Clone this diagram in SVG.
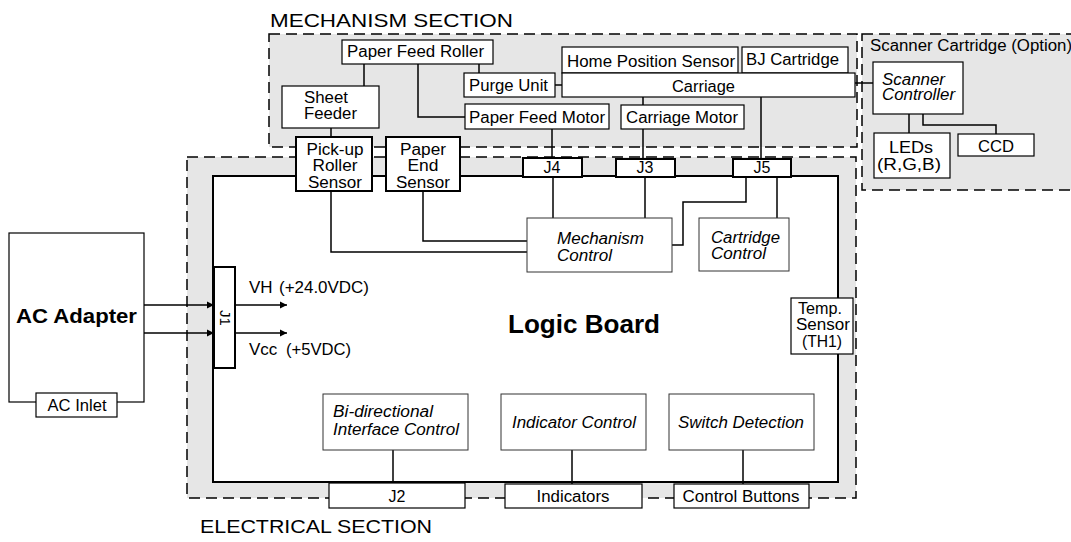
<svg xmlns="http://www.w3.org/2000/svg" width="1071" height="542" viewBox="0 0 1071 542">
<defs>
<style>
.sec{fill:#e6e6e6;stroke:#000;stroke-width:1.5;stroke-dasharray:11 6}
.box{fill:#fff;stroke:#000;stroke-width:1.2}
.bx2{fill:#fff;stroke:#000;stroke-width:2}
.thin{fill:#fff;stroke:#333;stroke-width:1}
.w{fill:none;stroke:#000;stroke-width:1.5}
text{font-family:"Liberation Sans",Arial,Helvetica,sans-serif;font-size:16px;fill:#000}
.c{text-anchor:middle}
.i{font-style:italic}
.b{font-weight:bold}
</style>
<marker id="ah" viewBox="0 0 10 10" refX="10" refY="5" markerWidth="7" markerHeight="10" markerUnits="userSpaceOnUse" orient="auto"><path d="M0,0 L10,5 L0,10 z" fill="#000"/></marker>
</defs>

<g id="mechanism-section">
<rect class="sec" x="269" y="34" width="588" height="113"/>
<text x="270" y="27" style="font-size:19px" textLength="243" lengthAdjust="spacingAndGlyphs">MECHANISM SECTION</text>
</g>
<g id="scanner-section">
<rect class="sec" x="862" y="34" width="230" height="156"/>
<text x="870" y="51" style="font-size:16px" textLength="202" lengthAdjust="spacingAndGlyphs">Scanner Cartridge (Option)</text>
</g>
<g id="electrical-section">
<rect class="sec" x="187" y="157" width="669" height="341"/>
<text x="200" y="533" style="font-size:19px" textLength="232" lengthAdjust="spacingAndGlyphs">ELECTRICAL SECTION</text>
</g>
<g id="logic-board">
<rect x="213" y="176" width="625" height="306" fill="#fff" stroke="#000" stroke-width="2"/>
<text class="b" x="508" y="333" style="font-size:25px" textLength="152" lengthAdjust="spacingAndGlyphs">Logic Board</text>
</g>

<g id="connectors" class="w">
<path d="M364,64 V86"/>
<path d="M418,64 V117 H465"/>
<path d="M479,64 V73"/>
<path d="M555,85 H562"/>
<path d="M855,83 H873"/>
<path d="M643,97 V105 M643,129 V159"/>
<path d="M761,97 V159"/>
<path d="M552,129 V158"/>
<path d="M331,128 V137"/>
<path d="M909,114 V133"/>
<path d="M923,114 V125 H996 V134"/>
<path d="M331,191 V252 H527"/>
<path d="M423,191 V241 H527"/>
<path d="M553,177 V218"/>
<path d="M645,177 V218"/>
<path d="M746,177 V202 H683 V245 H672"/>
<path d="M777,177 V218"/>
<path d="M393,450 V483"/>
<path d="M572,450 V484"/>
<path d="M743,450 V484"/>
<path d="M144,305 H214" marker-end="url(#ah)"/>
<path d="M144,333 H214" marker-end="url(#ah)"/>
<path d="M235,305 H287" marker-end="url(#ah)"/>
<path d="M235,333 H287" marker-end="url(#ah)"/>
</g>

<g id="paper-feed-roller"><rect class="box" x="342" y="40" width="151" height="24"/><text x="347" y="57" textLength="137" lengthAdjust="spacingAndGlyphs">Paper Feed Roller</text></g>
<g id="sheet-feeder"><rect class="box" x="282" y="86" width="97" height="42"/><text x="304" y="103" textLength="44" lengthAdjust="spacingAndGlyphs">Sheet</text><text x="304" y="119" textLength="53" lengthAdjust="spacingAndGlyphs">Feeder</text></g>
<g id="purge-unit"><rect class="box" x="464" y="73" width="91" height="24"/><text x="469" y="91" textLength="79" lengthAdjust="spacingAndGlyphs">Purge Unit</text></g>
<g id="paper-feed-motor"><rect class="box" x="465" y="104" width="144" height="25"/><text x="469" y="123" textLength="136" lengthAdjust="spacingAndGlyphs">Paper Feed Motor</text></g>
<g id="home-position-sensor"><rect class="box" x="562" y="47" width="176" height="26"/><text x="567" y="67" textLength="168" lengthAdjust="spacingAndGlyphs">Home Position Sensor</text></g>
<g id="bj-cartridge"><rect class="box" x="742" y="47" width="106" height="26"/><text x="746" y="65" textLength="93" lengthAdjust="spacingAndGlyphs">BJ Cartridge</text></g>
<g id="carriage"><rect class="box" x="562" y="73" width="293" height="24"/><text x="672" y="92" textLength="63" lengthAdjust="spacingAndGlyphs">Carriage</text></g>
<g id="carriage-motor"><rect class="box" x="621" y="105" width="123" height="24"/><text x="626" y="123" textLength="112" lengthAdjust="spacingAndGlyphs">Carriage Motor</text></g>

<g id="j4"><rect class="bx2" x="523" y="158" width="59" height="19"/><text class="c" x="552" y="173">J4</text></g>
<g id="j3"><rect class="bx2" x="616" y="159" width="59" height="18"/><text class="c" x="645" y="173">J3</text></g>
<g id="j5"><rect class="bx2" x="733" y="159" width="58" height="18"/><text class="c" x="762" y="173">J5</text></g>

<g id="scanner-controller"><rect class="box" x="873" y="62" width="90" height="52"/><text class="i" x="882" y="85" textLength="63" lengthAdjust="spacingAndGlyphs">Scanner</text><text class="i" x="882" y="100" textLength="73" lengthAdjust="spacingAndGlyphs">Controller</text></g>
<g id="leds"><rect class="box" x="874" y="133" width="76" height="45"/><text class="c" x="911" y="153" textLength="44" lengthAdjust="spacingAndGlyphs">LEDs</text><text class="c" x="909" y="170" textLength="64" lengthAdjust="spacingAndGlyphs">(R,G,B)</text></g>
<g id="ccd"><rect class="box" x="958" y="134" width="76" height="22"/><text class="c" x="996" y="152" textLength="36" lengthAdjust="spacingAndGlyphs">CCD</text></g>

<g id="pickup-roller-sensor"><rect class="bx2" x="296" y="137" width="76" height="54"/><text class="c" x="335" y="155" textLength="57" lengthAdjust="spacingAndGlyphs">Pick-up</text><text class="c" x="335" y="171" textLength="45" lengthAdjust="spacingAndGlyphs">Roller</text><text class="c" x="335" y="188" textLength="54" lengthAdjust="spacingAndGlyphs">Sensor</text></g>
<g id="paper-end-sensor"><rect class="bx2" x="386" y="137" width="74" height="54"/><text class="c" x="423" y="155" textLength="46" lengthAdjust="spacingAndGlyphs">Paper</text><text class="c" x="423" y="171" textLength="31" lengthAdjust="spacingAndGlyphs">End</text><text class="c" x="423" y="188" textLength="54" lengthAdjust="spacingAndGlyphs">Sensor</text></g>

<g id="mechanism-control"><rect class="thin" x="527" y="218" width="145" height="54"/><text class="i" x="557" y="244" textLength="87" lengthAdjust="spacingAndGlyphs">Mechanism</text><text class="i" x="557" y="261" textLength="55" lengthAdjust="spacingAndGlyphs">Control</text></g>
<g id="cartridge-control"><rect class="thin" x="699" y="218" width="90" height="53"/><text class="i" x="711" y="243" textLength="69" lengthAdjust="spacingAndGlyphs">Cartridge</text><text class="i" x="711" y="259" textLength="55" lengthAdjust="spacingAndGlyphs">Control</text></g>
<g id="temp-sensor"><rect class="box" x="791" y="298" width="62" height="56"/><text class="c" x="820" y="314" textLength="44" lengthAdjust="spacingAndGlyphs">Temp.</text><text class="c" x="823" y="330" textLength="54" lengthAdjust="spacingAndGlyphs">Sensor</text><text class="c" x="822" y="347" textLength="40" lengthAdjust="spacingAndGlyphs">(TH1)</text></g>

<g id="ac-adapter"><rect class="box" x="9" y="233" width="135" height="169"/><text class="b" x="16" y="323" style="font-size:20px" textLength="121" lengthAdjust="spacingAndGlyphs">AC Adapter</text></g>
<g id="ac-inlet"><rect class="box" x="36" y="393" width="81" height="24"/><text class="c" x="77" y="411" textLength="59" lengthAdjust="spacingAndGlyphs">AC Inlet</text></g>
<g id="j1"><rect class="bx2" x="214" y="267" width="21" height="101"/><text class="c" transform="translate(225,318) rotate(90)" dy="5" style="font-size:15px">J1</text></g>
<g id="vh-label"><text x="249" y="293" style="font-size:17px">VH</text><text x="279" y="293" textLength="90" lengthAdjust="spacingAndGlyphs">(+24.0VDC)</text></g>
<g id="vcc-label"><text x="249" y="355" style="font-size:17px">Vcc</text><text x="286" y="355" textLength="65" lengthAdjust="spacingAndGlyphs">(+5VDC)</text></g>

<g id="bidir-interface-control"><rect class="thin" x="323" y="394" width="145" height="56"/><text class="i" x="333" y="417" textLength="100" lengthAdjust="spacingAndGlyphs">Bi-directional</text><text class="i" x="333" y="435" textLength="126" lengthAdjust="spacingAndGlyphs">Interface Control</text></g>
<g id="indicator-control"><rect class="thin" x="501" y="394" width="145" height="56"/><text class="i" x="512" y="428" textLength="124" lengthAdjust="spacingAndGlyphs">Indicator Control</text></g>
<g id="switch-detection"><rect class="thin" x="669" y="394" width="145" height="56"/><text class="i" x="678" y="428" textLength="126" lengthAdjust="spacingAndGlyphs">Switch Detection</text></g>
<g id="j2"><rect class="box" x="329" y="483" width="136" height="25"/><text class="c" x="397" y="502">J2</text></g>
<g id="indicators"><rect class="box" x="505" y="484" width="137" height="24"/><text class="c" x="573" y="502" textLength="73" lengthAdjust="spacingAndGlyphs">Indicators</text></g>
<g id="control-buttons"><rect class="box" x="674" y="484" width="135" height="24"/><text class="c" x="741" y="502" textLength="117" lengthAdjust="spacingAndGlyphs">Control Buttons</text></g>
</svg>
